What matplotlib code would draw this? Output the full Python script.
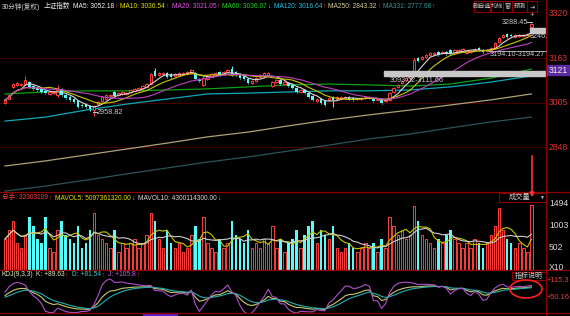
import numpy as np
import pandas as pd
import matplotlib
matplotlib.use("Agg")
import matplotlib.pyplot as plt
from matplotlib.patches import Rectangle, Ellipse

plt.rcParams['font.family'] = ['Liberation Sans', 'Noto Sans CJK SC', 'DejaVu Sans']

# ---- data: 30 minute candles, 上证指数 ----
opens = [
    3005, 3019, 3062, 3069, 3069, 3072, 3079, 3065, 3058, 3055,
    3048, 3037, 3040, 3033, 3055, 3033, 3026, 3019, 3012, 2998,
    3001, 2994, 2980, 3001, 3012, 3019, 3030, 3044, 3033, 3037,
    3037, 3044, 3048, 3051, 3058, 3062, 3072, 3118, 3104, 3108,
    3111, 3108, 3101, 3104, 3108, 3108, 3111, 3111, 3090, 3069,
    3090, 3101, 3104, 3115, 3108, 3115, 3125, 3115, 3108, 3101,
    3090, 3076, 3083, 3097, 3101, 3104, 3065, 3079, 3086, 3072,
    3076, 3069, 3058, 3044, 3051, 3040, 3030, 3012, 3019, 3012,
    3016, 3026, 3019, 3019, 3023, 3026, 3023, 3019, 3019, 3023,
    3023, 3019, 3016, 3016, 3012, 3016, 3044, 3062, 3076, 3086,
    3094, 3118, 3164, 3161, 3168, 3175, 3178, 3186, 3182, 3186,
    3193, 3186, 3186, 3189, 3182, 3186, 3193, 3200, 3193, 3189,
    3193, 3200, 3221, 3239, 3249, 3246, 3239, 3242, 3242, 3246,
    3274]
closes = [
    3016, 3033, 3072, 3076, 3072, 3086, 3062, 3055, 3051, 3044,
    3040, 3044, 3044, 3051, 3033, 3023, 3016, 3009, 2991, 2994,
    2991, 2984, 2994, 3009, 3026, 3033, 3033, 3030, 3040, 3044,
    3040, 3051, 3055, 3058, 3065, 3072, 3108, 3101, 3111, 3111,
    3097, 3097, 3108, 3111, 3111, 3115, 3122, 3090, 3083, 3094,
    3101, 3108, 3111, 3104, 3115, 3122, 3104, 3104, 3094, 3090,
    3076, 3083, 3094, 3104, 3111, 3111, 3079, 3086, 3072, 3079,
    3065, 3058, 3044, 3051, 3040, 3026, 3016, 3019, 3005, 2998,
    3023, 3016, 3026, 3026, 3026, 3019, 3016, 3020, 3023, 3026,
    3026, 3012, 3019, 3005, 3016, 3040, 3058, 3069, 3083, 3094,
    3101, 3157, 3154, 3168, 3175, 3182, 3182, 3175, 3186, 3178,
    3178, 3193, 3193, 3196, 3189, 3189, 3196, 3193, 3186, 3193,
    3200, 3217, 3235, 3246, 3239, 3242, 3246, 3246, 3246, 3249,
    3285]
highs = [
    3020, 3036, 3075, 3079, 3075, 3100, 3082, 3068, 3061, 3058,
    3050, 3047, 3047, 3069, 3058, 3036, 3029, 3022, 3015, 3001,
    3004, 2997, 2997, 3012, 3029, 3036, 3036, 3047, 3043, 3047,
    3043, 3054, 3058, 3061, 3068, 3075, 3111, 3128, 3114, 3114,
    3114, 3111, 3111, 3114, 3114, 3118, 3125, 3114, 3093, 3101,
    3104, 3111, 3114, 3118, 3118, 3125, 3136, 3118, 3111, 3104,
    3093, 3086, 3097, 3107, 3114, 3114, 3082, 3089, 3089, 3082,
    3079, 3072, 3061, 3054, 3054, 3043, 3033, 3022, 3022, 3015,
    3026, 3029, 3029, 3029, 3029, 3029, 3026, 3023, 3026, 3029,
    3029, 3022, 3022, 3019, 3019, 3043, 3061, 3072, 3086, 3097,
    3104, 3164, 3167, 3171, 3178, 3185, 3185, 3189, 3189, 3189,
    3196, 3196, 3196, 3199, 3192, 3192, 3199, 3203, 3196, 3196,
    3203, 3220, 3238, 3249, 3252, 3249, 3249, 3249, 3249, 3252,
    3288.45]
lows = [
    3001, 3016, 3059, 3066, 3066, 3069, 3059, 3052, 3048, 3041,
    3037, 3034, 3037, 3026, 3030, 3020, 3013, 3006, 2988, 2991,
    2988, 2975, 2960, 2998, 3009, 3016, 3027, 3027, 3030, 3034,
    3034, 3041, 3045, 3048, 3055, 3059, 3069, 3098, 3101, 3105,
    3094, 3094, 3098, 3101, 3105, 3105, 3108, 3087, 3080, 3066,
    3087, 3098, 3101, 3101, 3105, 3112, 3101, 3101, 3091, 3087,
    3073, 3073, 3080, 3094, 3098, 3101, 3062, 3076, 3069, 3069,
    3062, 3055, 3041, 3041, 3037, 3023, 3013, 3009, 3002, 2995,
    3013, 2991, 3016, 3016, 3020, 3016, 3013, 3016, 3016, 3020,
    3020, 3009, 3013, 3002, 3009, 3013, 3041, 3059, 3073, 3083,
    3091, 3115, 3151, 3158, 3165, 3172, 3175, 3172, 3179, 3175,
    3175, 3183, 3183, 3186, 3179, 3183, 3190, 3190, 3183, 3186,
    3190, 3197, 3218, 3236, 3236, 3239, 3236, 3239, 3239, 3243,
    3271]
volumes = [
    700, 900, 1100, 600, 500, 800, 1200, 1000, 700, 600,
    1200, 500, 400, 900, 1100, 800, 700, 600, 1000, 500,
    600, 900, 1300, 800, 700, 600, 500, 900, 400, 600,
    500, 600, 700, 500, 600, 800, 1300, 1100, 700, 500,
    900, 600, 500, 600, 400, 500, 800, 1000, 700, 1200,
    600, 500, 400, 700, 500, 600, 1100, 800, 700, 600,
    900, 500, 600, 500, 700, 600, 1000, 500, 700, 400,
    600, 700, 900, 500, 800, 1000, 1100, 600, 900, 800,
    700, 1000, 500, 400, 500, 600, 500, 400, 500, 600,
    500, 600, 400, 700, 500, 1200, 1000, 800, 900, 700,
    800, 1450, 1100, 800, 700, 600, 500, 700, 600, 800,
    900, 700, 600, 500, 600, 500, 700, 600, 500, 600,
    800, 1000, 1400, 900, 700, 600, 500, 600, 500, 400,
    1480]

# long moving averages read every 10 bars
ma_idx = [0, 10, 20, 30, 40, 50, 60, 70, 80, 90, 100, 110, 120, 130]
ma60 = [3037, 3044, 3048, 3048, 3051, 3055, 3062, 3069, 3072, 3069, 3065, 3072, 3093, 3125]
ma120 = [2941, 2955, 2980, 3001, 3019, 3037, 3040, 3044, 3048, 3048, 3051, 3062, 3079, 3101]
ma250 = [2782, 2800, 2821, 2842, 2863, 2885, 2902, 2924, 2945, 2963, 2980, 2998, 3016, 3037]
ma331 = [2693, 2711, 2732, 2754, 2775, 2796, 2814, 2835, 2856, 2878, 2895, 2917, 2938, 2955]

price_ticks = [3320, 3163, 3005, 2848]
vol_ticks = [1494, 1003, 502]
kdj_ticks = [115.3, 50.16]

RED = '#ff3c3c'
CYAN = '#54fcfc'
DARKRED = '#8c0000'
GRID = '#4a0000'
W, H = 570, 316
FS = 5.2
HFS = 4.75


def fy(y):
    return 1 - y / H


def panel(top, bottom):
    a = fig.add_axes([0, fy(bottom), 546 / W, (bottom - top) / H])
    a.set_facecolor('black')
    for s in a.spines.values():
        s.set_visible(False)
    a.set_xticks([])
    a.set_yticks([])
    a.set_xlim(-1.23, 133.6)
    return a


o = np.array(opens, float)
c = np.array(closes, float)
h = np.array(highs, float)
l = np.array(lows, float)
v = np.array(volumes, float)
idx = np.arange(len(c))
up = c >= o
top_b = np.maximum(o, c)
bot_b = np.minimum(o, c)

fig = plt.figure(figsize=(5.7, 3.16), dpi=100, facecolor='black')

# ---- main price panel ----
ax = panel(12, 192)
ax.set_ylim(2690, 3327)
for t in price_ticks[1:]:
    ax.axhline(t, color=GRID, lw=0.7, zorder=0)

cols = np.where(up, RED, CYAN)
ax.vlines(idx, top_b, h, color=cols, lw=0.7, zorder=3)
ax.vlines(idx, l, bot_b, color=cols, lw=0.7, zorder=3)
ax.bar(idx[up], np.maximum(top_b - bot_b, 0.8)[up], bottom=bot_b[up], width=0.62,
       facecolor='black', edgecolor=RED, lw=0.7, zorder=4)
ax.bar(idx[~up], (top_b - bot_b)[~up], bottom=bot_b[~up], width=0.62,
       color=CYAN, lw=0, zorder=4)

cs = pd.Series(c)
ax.plot(idx, cs.rolling(5, min_periods=1).mean(), color='#d8d8d8', lw=0.8, zorder=5)
ax.plot(idx, cs.rolling(10, min_periods=1).mean(), color='#c8c800', lw=0.8, zorder=5)
ax.plot(idx, cs.rolling(20, min_periods=1).mean(), color='#c040c0', lw=0.8, zorder=5)
ax.plot(ma_idx, ma60, color='#10a010', lw=0.9, zorder=2)
ax.plot(ma_idx, ma120, color='#10a8b8', lw=0.9, zorder=2)
ax.plot(ma_idx, ma250, color='#b0a078', lw=0.9, zorder=2)
ax.plot(ma_idx, ma331, color='#2c5458', lw=0.9, zorder=2)

# ---- volume panel ----
vx = panel(192, 270)
vx.set_ylim(0, 1764)
vx.bar(idx[up], v[up], width=0.62, facecolor='black', edgecolor=RED, lw=0.7)
vx.bar(idx[~up], v[~up], width=0.62, color=CYAN, lw=0)
vs = pd.Series(v)
vx.plot(idx, vs.rolling(5, min_periods=1).mean(), color='#c8c800', lw=0.8)
vx.plot(idx, vs.rolling(10, min_periods=1).mean(), color='#d0d0d0', lw=0.8)

# ---- KDJ panel ----
kx = panel(270, 313)
kx.set_ylim(-7.3, 157.4)
llv = pd.Series(l).rolling(9, min_periods=1).min().values
hhv = pd.Series(h).rolling(9, min_periods=1).max().values
rsv = (c - llv) / np.maximum(hhv - llv, 1e-9) * 100
K = np.zeros_like(c)
D = np.zeros_like(c)
pk, pd_ = 50.0, 50.0
for i in range(len(c)):
    pk = (rsv[i] + 2 * pk) / 3
    pd_ = (pk + 2 * pd_) / 3
    K[i], D[i] = pk, pd_
J = 3 * K - 2 * D
kx.plot(idx, K, color='#c8c870', lw=0.8)
kx.plot(idx, D, color='#20b0b0', lw=0.8)
kx.plot(idx, J, color='#b050c8', lw=0.8)

# ---- overlay in pixel units ----
frame = fig.add_axes([0, 0, 1, 1], facecolor='none')
frame.set_xlim(0, W)
frame.set_ylim(H, 0)
frame.axis('off')
frame.plot([546, 546], [0, 316], color=DARKRED, lw=0.9)
for yy in (192, 270, 313):
    frame.plot([0, 570], [yy, yy], color=DARKRED, lw=0.9)


def to_px(a, val):
    # y pixel of a data value in panel a
    return H - a.transData.transform((0, val))[1]


# right axis labels
for t in price_ticks:
    frame.text(549, to_px(ax, t), str(t), color='#e03030', fontsize=6.2, va='center')
for t in vol_ticks:
    frame.text(549, to_px(vx, t), str(t), color='#d8d8d8', fontsize=6.2, va='center')
frame.text(549, 267, 'X10', color='#d8d8d8', fontsize=6.2, va='center')
frame.text(547, to_px(kx, 115.3), '+115.3', color='#e04040', fontsize=5.4, va='center')
frame.text(547, to_px(kx, 50.16), '+50.16', color='#e04040', fontsize=5.4, va='center')

# price tags / drawings
frame.add_patch(Rectangle((546, 65), 24, 10, color='#5a2aa0'))
frame.text(549, 70.5, '3121', color='#f0f0f0', fontsize=6.2, va='center')
frame.add_patch(Rectangle((384, 71), 162, 5, color='#c8c8c8'))
frame.text(390, 80, '3093.02-3111.66', color='#c8c8c8', fontsize=FS, va='center')
frame.plot([488, 546], [51, 51], color='#a0a0a0', lw=0.7)
frame.text(490, 54, '3194.10-3194.27', color='#c8c8c8', fontsize=FS, va='center')
frame.add_patch(Rectangle((530, 28), 16, 5, color='#c8c8c8'))
frame.text(530, 37, '3246.', color='#c8c8c8', fontsize=FS, va='center')
frame.text(502, 22, '3288.45', color='#c8c8c8', fontsize=FS, va='center')
frame.plot([527, 532], [22, 22], color='#c8c8c8', lw=0.7)
frame.text(532, 15, '+', color='#b0b0b0', fontsize=6, ha='center', va='center')
frame.plot([93, 97], [112, 112], color='#c8c8c8', lw=0.7)
frame.text(97, 112, '2958.82', color='#c8c8c8', fontsize=FS, va='center')
frame.annotate('', xy=(532, 200), xytext=(532, 153),
               arrowprops=dict(arrowstyle='-|>', color='#ff3030', lw=1.2, mutation_scale=6))

renderer = fig.canvas.get_renderer()


def text_row(x, y, items):
    # lay texts out one after another, measuring each
    for s, col, gap in items:
        t = frame.text(x, y, s, color=col, fontsize=HFS, va='center')
        x += t.get_window_extent(renderer).width + gap


text_row(2, 6.5, [('30分钟(复权)', '#d0d0d0', 3), ('上证指数', '#f0f0f0', 3),
                  ('MA5: 3052.18', '#f0f0f0', 0), ('↑', '#ff3030', 3),
                  ('MA10: 3036.54', '#e0e000', 0), ('↑', '#ff3030', 3),
                  ('MA20: 3021.05', '#e050e0', 0), ('↑', '#ff3030', 3),
                  ('MA60: 3036.07', '#20d020', 0), ('↓', '#40e0e0', 3),
                  ('MA120: 3016.64', '#20c0e0', 0), ('↑', '#ff3030', 3),
                  ('MA250: 2843.32', '#d8c898', 0), ('↑', '#ff3030', 3),
                  ('MA331: 2777.68', '#3c8c8c', 0), ('↑', '#ff3030', 3)])
text_row(2, 198, [('总手: 32303109', '#ff3c3c', 0), ('↑', '#ff3030', 4),
                  ('MAVOL5: 5097361320.00', '#e0e000', 0), ('↓', '#40e0e0', 4),
                  ('MAVOL10: 4300114300.00', '#d8d8d8', 0), ('↓', '#40e0e0', 4)])
text_row(2, 275, [('KDJ(9,3,3)', '#e8e8c0', 2), ('K: +89.63', '#e8e8c0', 0), ('↑', '#ff3030', 4),
                  ('D: +81.54', '#40c8c8', 0), ('↑', '#ff3030', 4),
                  ('J: +105.8', '#c060e0', 0), ('↑', '#ff3030', 4)])

btns = [(474, 490, '删自选'), (491, 503, '均线'), (503, 512, '窗'), (512, 527, '预测'), (527, 537, '⇥')]
for x0, x1, s in btns:
    frame.add_patch(Rectangle((x0, 1), x1 - x0, 11, facecolor='black', edgecolor=DARKRED, lw=0.8))
    frame.text((x0 + x1) / 2, 6.5, s, color='#d0d0d0', fontsize=4.4, ha='center', va='center')

frame.add_patch(Rectangle((499, 193), 47, 9, facecolor='black', edgecolor=DARKRED, lw=0.8))
frame.text(520, 197.5, '成交量', color='#d0d0d0', fontsize=5.2, ha='center', va='center')
frame.text(541, 197.5, '▼', color='#d0d0d0', fontsize=3.5, ha='center', va='center')
frame.add_patch(Rectangle((512, 272), 34, 8, facecolor='black', edgecolor=DARKRED, lw=0.8))
frame.text(529, 276, '指标说明', color='#d0d0d0', fontsize=5, ha='center', va='center')
frame.add_patch(Ellipse((526, 289), 32, 18, fill=False, edgecolor='#ff2020', lw=1.2))
frame.add_patch(Rectangle((143, 313), 34, 3, color='#6020c0'))

fig.savefig('out.png', dpi=100, facecolor='black')
